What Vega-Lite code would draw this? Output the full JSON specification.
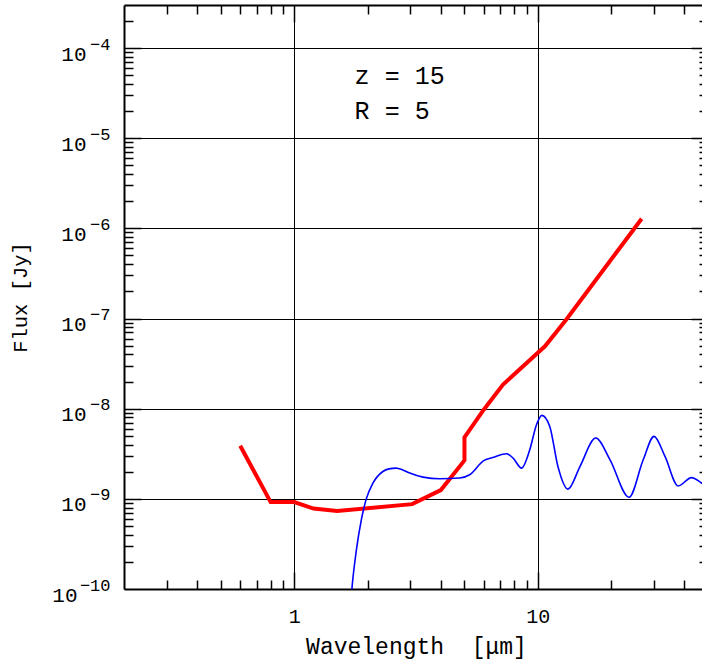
{
  "$schema": "https://vega.github.io/schema/vega-lite/v6.json",
  "autosize": "none",
  "width": 584,
  "height": 584,
  "padding": {"left": 124, "top": 5, "right": 0, "bottom": 74},
  "background": "white",
  "config": {"view": {"stroke": null}},
  "datasets": {
    "red": [
      {"order": 1, "wl": 0.6, "flux": 3.88e-9},
      {"order": 2, "wl": 0.8, "flux": 9.2e-10},
      {"order": 3, "wl": 1.0, "flux": 9.2e-10},
      {"order": 4, "wl": 1.2, "flux": 7.8e-10},
      {"order": 5, "wl": 1.5, "flux": 7.35e-10},
      {"order": 6, "wl": 3.05, "flux": 8.73e-10},
      {"order": 7, "wl": 4.0, "flux": 1.25e-9},
      {"order": 8, "wl": 5.0, "flux": 2.67e-9},
      {"order": 9, "wl": 5.0, "flux": 4.8e-9},
      {"order": 10, "wl": 6.0, "flux": 9.75e-9},
      {"order": 11, "wl": 7.2, "flux": 1.85e-8},
      {"order": 12, "wl": 10.7, "flux": 4.92e-8},
      {"order": 13, "wl": 13.1, "flux": 9.75e-8},
      {"order": 14, "wl": 26.7, "flux": 1.28e-6}
    ],
    "blue": [
      {"wl": 1.70, "flux": 6e-11},
      {"wl": 1.725, "flux": 1.0e-10},
      {"wl": 1.80, "flux": 2.71e-10},
      {"wl": 1.886, "flux": 5.84e-10},
      {"wl": 1.975, "flux": 9.93e-10},
      {"wl": 2.104, "flux": 1.49e-9},
      {"wl": 2.312, "flux": 2.01e-9},
      {"wl": 2.45, "flux": 2.15e-9},
      {"wl": 2.62, "flux": 2.19e-9},
      {"wl": 2.80, "flux": 2.08e-9},
      {"wl": 2.98, "flux": 1.93e-9},
      {"wl": 3.38, "flux": 1.74e-9},
      {"wl": 3.96, "flux": 1.67e-9},
      {"wl": 4.78, "flux": 1.70e-9},
      {"wl": 5.25, "flux": 1.85e-9},
      {"wl": 6.0, "flux": 2.65e-9},
      {"wl": 6.6, "flux": 2.9e-9},
      {"wl": 7.44, "flux": 3.16e-9},
      {"wl": 7.92, "flux": 2.83e-9},
      {"wl": 8.58, "flux": 2.19e-9},
      {"wl": 9.27, "flux": 3.5e-9},
      {"wl": 9.88, "flux": 6.64e-9},
      {"wl": 10.4, "flux": 8.43e-9},
      {"wl": 11.2, "flux": 6.36e-9},
      {"wl": 12.1, "flux": 2.28e-9},
      {"wl": 13.3, "flux": 1.28e-9},
      {"wl": 14.9, "flux": 2.28e-9},
      {"wl": 17.3, "flux": 4.72e-9},
      {"wl": 19.8, "flux": 2.71e-9},
      {"wl": 23.7, "flux": 1.04e-9},
      {"wl": 27.1, "flux": 2.71e-9},
      {"wl": 30.0, "flux": 4.93e-9},
      {"wl": 33.3, "flux": 2.95e-9},
      {"wl": 37.7, "flux": 1.39e-9},
      {"wl": 42.8, "flux": 1.72e-9},
      {"wl": 47.0, "flux": 1.5e-9},
      {"wl": 50.0, "flux": 1.35e-9}
    ],
    "note1": [{"wl": 1.77, "flux": 3.98e-5, "text": "z = 15"}],
    "note2": [{"wl": 1.77, "flux": 1.63e-5, "text": "R = 5"}]
  },
  "resolve": {"axis": {"x": "independent", "y": "independent"}},
  "layer": [
    {
      "data": {"name": "red"},
      "mark": {"type": "line", "color": "#ff0000", "strokeWidth": 4, "clip": true},
      "encoding": {
        "x": {"field": "wl", "type": "quantitative",
          "scale": {"type": "log", "domain": [0.2, 50], "nice": false, "zero": false},
          "axis": {"orient": "bottom", "title": null, "labels": false,
            "values": [0.3,0.4,0.5,0.6,0.7,0.8,0.9,1,2,3,4,5,6,7,8,9,10,20,30,40],
            "domain": true, "domainColor": "black", "domainWidth": 2,
            "ticks": true, "tickColor": "black", "tickWidth": 1.5,
            "tickSize": {"condition": {"test": "datum.value == 1 || datum.value == 10", "value": -17}, "value": -9},
            "grid": true, "gridColor": "black", "gridWidth": 1,
            "gridOpacity": {"condition": {"test": "datum.value == 1 || datum.value == 10", "value": 1}, "value": 0}}},
        "y": {"field": "flux", "type": "quantitative",
          "scale": {"type": "log", "domain": [1e-10, 3e-4], "nice": false, "zero": false},
          "axis": {"orient": "left", "title": null, "labels": false,
            "values": [2e-10,3e-10,4e-10,5e-10,6e-10,7e-10,8e-10,9e-10,1e-9,2e-9,3e-9,4e-9,5e-9,6e-9,7e-9,8e-9,9e-9,1e-8,2e-8,3e-8,4e-8,5e-8,6e-8,7e-8,8e-8,9e-8,1e-7,2e-7,3e-7,4e-7,5e-7,6e-7,7e-7,8e-7,9e-7,1e-6,2e-6,3e-6,4e-6,5e-6,6e-6,7e-6,8e-6,9e-6,1e-5,2e-5,3e-5,4e-5,5e-5,6e-5,7e-5,8e-5,9e-5,1e-4,2e-4],
            "domain": true, "domainColor": "black", "domainWidth": 2,
            "ticks": true, "tickColor": "black", "tickWidth": 1.5,
            "tickSize": {"condition": {"test": "abs(log(datum.value)/LN10 - round(log(datum.value)/LN10)) < 0.001", "value": -17}, "value": -9},
            "grid": true, "gridColor": "black", "gridWidth": 1,
            "gridOpacity": {"condition": {"test": "abs(log(datum.value)/LN10 - round(log(datum.value)/LN10)) < 0.001", "value": 1}, "value": 0}}},
        "order": {"field": "order", "type": "quantitative"}
      }
    },
    {
      "data": {"name": "blue"},
      "mark": {"type": "line", "color": "#0000ff", "strokeWidth": 1.6, "interpolate": "monotone", "clip": true},
      "encoding": {
        "x": {"field": "wl", "type": "quantitative",
          "axis": {"orient": "top", "title": null, "labels": false,
            "values": [0.3,0.4,0.5,0.6,0.7,0.8,0.9,1,2,3,4,5,6,7,8,9,10,20,30,40],
            "domain": true, "domainColor": "black", "domainWidth": 2,
            "ticks": true, "tickColor": "black", "tickWidth": 1.5,
            "tickSize": {"condition": {"test": "datum.value == 1 || datum.value == 10", "value": -17}, "value": -9},
            "grid": false}},
        "y": {"field": "flux", "type": "quantitative",
          "axis": {"orient": "right", "title": null, "labels": false,
            "values": [2e-10,3e-10,4e-10,5e-10,6e-10,7e-10,8e-10,9e-10,1e-9,2e-9,3e-9,4e-9,5e-9,6e-9,7e-9,8e-9,9e-9,1e-8,2e-8,3e-8,4e-8,5e-8,6e-8,7e-8,8e-8,9e-8,1e-7,2e-7,3e-7,4e-7,5e-7,6e-7,7e-7,8e-7,9e-7,1e-6,2e-6,3e-6,4e-6,5e-6,6e-6,7e-6,8e-6,9e-6,1e-5,2e-5,3e-5,4e-5,5e-5,6e-5,7e-5,8e-5,9e-5,1e-4,2e-4],
            "domain": true, "domainColor": "black", "domainWidth": 2,
            "ticks": true, "tickColor": "black", "tickWidth": 1.5,
            "tickSize": {"condition": {"test": "abs(log(datum.value)/LN10 - round(log(datum.value)/LN10)) < 0.001", "value": -17}, "value": -9},
            "grid": false}}
      }
    },
    {
      "data": {"name": "note1"},
      "mark": {"type": "text", "font": "Liberation Mono", "fontSize": 25, "align": "left", "baseline": "alphabetic", "color": "black"},
      "encoding": {
        "x": {"field": "wl", "type": "quantitative",
          "axis": {"orient": "bottom", "values": [1, 10], "labelExpr": "datum.value == 1 ? '1' : '10'",
            "domain": false, "ticks": false, "grid": false,
            "labelFont": "Liberation Mono", "labelFontSize": 20, "labelColor": "black",
            "labelBaseline": "top", "labelPadding": 17, "labelFlush": false,
            "title": "Wavelength\u00a0\u00a0[μm]", "titleFont": "Liberation Mono", "titleFontSize": 23,
            "titleFontWeight": "normal", "titleColor": "black", "titlePadding": 9}},
        "y": {"field": "flux", "type": "quantitative",
          "axis": {"orient": "left", "values": [1e-10,1e-9,1e-8,1e-7,1e-6,1e-5,1e-4], "labelExpr": "'10'",
            "domain": false, "ticks": false, "grid": false,
            "labelFont": "Liberation Mono", "labelFontSize": 21, "labelColor": "black",
            "labelAlign": "right", "labelBaseline": "middle", "labelOffset": 6, "labelFlush": false,
            "labelPadding": {"condition": {"test": "datum.value < 5e-10", "value": 47}, "value": 38},
            "title": "Flux [Jy]", "titleFont": "Liberation Mono", "titleFontSize": 20.5,
            "titleFontWeight": "normal", "titleColor": "black", "titlePadding": 21}},
        "text": {"field": "text", "type": "nominal"}
      }
    },
    {
      "data": {"name": "note2"},
      "mark": {"type": "text", "font": "Liberation Mono", "fontSize": 25, "align": "left", "baseline": "alphabetic", "color": "black"},
      "encoding": {
        "x": {"field": "wl", "type": "quantitative", "axis": null},
        "y": {"field": "flux", "type": "quantitative",
          "axis": {"orient": "left", "values": [1e-10,1e-9,1e-8,1e-7,1e-6,1e-5,1e-4],
            "labelExpr": "'−' + toString(-round(log(datum.value)/LN10))",
            "domain": false, "ticks": false, "grid": false,
            "labelFont": "Liberation Mono", "labelFontSize": 17, "labelColor": "black",
            "labelAlign": "right", "labelBaseline": "middle", "labelOffset": -4, "labelFlush": false,
            "labelPadding": 14, "title": null}},
        "text": {"field": "text", "type": "nominal"}
      }
    }
  ]
}
